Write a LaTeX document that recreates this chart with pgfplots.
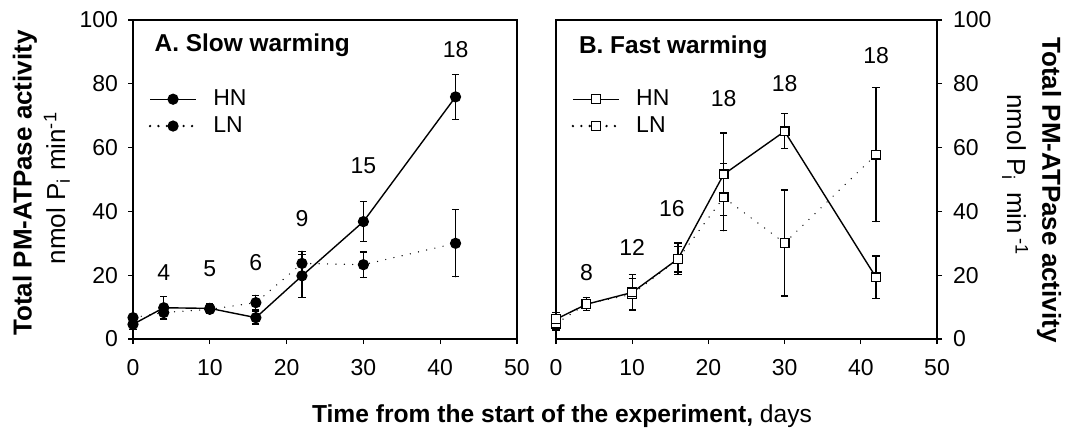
\documentclass[border=0pt]{standalone}
\usepackage{fontspec}
\setmainfont{Liberation Sans}
\usepackage{pgfplots}
\usepackage{pgfplotstable}
\pgfplotsset{compat=1.18}

% A. Slow warming
\pgfplotstableread{
x y e
0 4.6 1.5
4 9.8 3.5
10 9.6 1.5
16 6.7 2.0
22 19.8 6.8
30 36.8 6.2
42 75.9 7.0
}\slowHN
\pgfplotstableread{
x y e
0 6.7 1.0
4 8.3 2.0
10 9.3 1.0
16 11.4 2.3
22 23.7 3.8
30 23.3 4.0
42 30.0 10.5
}\slowLN
% B. Fast warming
\pgfplotstableread{
x y e
0 6.2 2.0
4 10.9 2.0
10 14.6 5.5
16 25.1 5.0
22 51.6 13.0
30 65.1 5.5
42 19.3 6.7
}\fastHN
\pgfplotstableread{
x y e
0 4.8 2.0
4 11.0 2.0
10 14.0 5.0
16 25.0 4.0
22 44.4 10.5
30 30.1 16.6
42 57.8 21.0
}\fastLN

\newcommand{\tfont}{\fontsize{11.5}{13}\selectfont}

\pgfplotsset{
  panel/.style={
    scale only axis, height=159.5pt,
    xmin=0, xmax=50, ymin=0, ymax=100,
    xtick={0,10,...,50}, ytick={0,20,...,100},
    tick align=outside, major tick length=2.5pt,
    xtick pos=bottom,
    axis line style={line width=0.6pt},
    tick style={line width=0.6pt, black},
    tick label style={font=\tfont},
    xticklabel style={yshift=-4pt},
    /pgf/number format/assume math mode=true,
    clip=false,
    legend cell align=left,
    legend image code/.code={\draw[mark repeat=2,mark phase=2,##1] plot coordinates {(0pt,0pt) (11.5pt,0pt) (23pt,0pt)};},
    legend style={draw=none, fill=none, inner sep=0pt, anchor=north west,
      font=\tfont, row sep=0pt,
      /tikz/every odd column/.append style={column sep=6pt}},
  },
  series/.style={black, line width=0.7pt,
    error bars/.cd, y dir=both, y explicit,
    error bar style={solid, line width=0.6pt},
    error mark options={rotate=90, mark size=1.8pt, solid, line width=0.6pt}},
  dotline/.style={line width=1.3pt, dash pattern=on 0pt off 4.2pt, line cap=round},
  dot/.style={mark=*, mark size=2.5pt, mark options={solid, fill=black, line width=0.6pt}},
  box/.style={mark=square*, mark size=2.2pt, mark options={solid, fill=white, line width=0.6pt}},
}

\begin{document}
\begin{tikzpicture}
\useasboundingbox (0,0) rectangle (537pt,215pt);

% panel A
\begin{axis}[panel, width=192pt, at={(66.5pt,45.5pt)}, anchor=south west,
  ytick pos=left, yticklabel style={xshift=-1.5pt},
  legend style={at={(0.04,0.795)}}]
\addplot[forget plot, dotline, dot, series] table[x=x, y=y, y error=e] {\slowLN};
\addplot[forget plot, solid, dot, series] table[x=x, y=y, y error=e] {\slowHN};
\addlegendimage{solid, black, line width=0.7pt, dot}
\addlegendentry{HN}
\addlegendimage{black, dotline, dot}
\addlegendentry{LN}
\node[anchor=west, font=\fontsize{12.2}{14}\selectfont\bfseries] at (axis cs:1.9,92.2) {A. Slow warming};
\node[font=\tfont] at (axis cs:4,20.9) {4};
\node[font=\tfont] at (axis cs:10,22) {5};
\node[font=\tfont] at (axis cs:16,24) {6};
\node[font=\tfont] at (axis cs:22,37.7) {9};
\node[font=\tfont] at (axis cs:30,54.4) {15};
\node[font=\tfont] at (axis cs:42,90.6) {18};
\end{axis}

% panel B
\begin{axis}[panel, width=190.5pt, at={(278pt,45.5pt)}, anchor=south west,
  ytick pos=right, yticklabel style={xshift=2pt},
  legend style={at={(0.04,0.795)}}]
\addplot[forget plot, dotline, box, series] table[x=x, y=y, y error=e] {\fastLN};
\addplot[forget plot, solid, box, series] table[x=x, y=y, y error=e] {\fastHN};
\addlegendimage{solid, black, line width=0.7pt, box}
\addlegendentry{HN}
\addlegendimage{black, dotline, box}
\addlegendentry{LN}
\node[anchor=west, font=\fontsize{12.2}{14}\selectfont\bfseries] at (axis cs:2.1,91.5) {B. Fast warming};
\node[font=\tfont] at (axis cs:4,20.9) {8};
\node[font=\tfont] at (axis cs:10,28.7) {12};
\node[font=\tfont] at (axis cs:15.2,40.8) {16};
\node[font=\tfont] at (axis cs:22,75.4) {18};
\node[font=\tfont] at (axis cs:30,80.1) {18};
\node[font=\tfont] at (axis cs:42,88.8) {18};
\end{axis}

% axis titles
\node[rotate=90, font=\fontsize{13}{15}\selectfont\bfseries] at (12.5pt,123.5pt) {Total PM-ATPase activity};
\node[rotate=90, anchor=base, font=\fontsize{13}{15}\selectfont] at (32.5pt,121pt) {nmol P\textsubscript{i} min\textsuperscript{-1}};
\node[rotate=-90, font=\fontsize{13}{15}\selectfont\bfseries] at (524.5pt,120pt) {Total PM-ATPase activity};
\node[rotate=-90, anchor=base, font=\fontsize{13}{15}\selectfont] at (503.5pt,127.5pt) {nmol P\textsubscript{i}\, min\,\textsuperscript{-1}};
\node[anchor=base, font=\fontsize{12.3}{14}\selectfont] at (281pt,4pt) {\bfseries Time from the start of the experiment,\mdseries\ days};
\end{tikzpicture}
\end{document}
